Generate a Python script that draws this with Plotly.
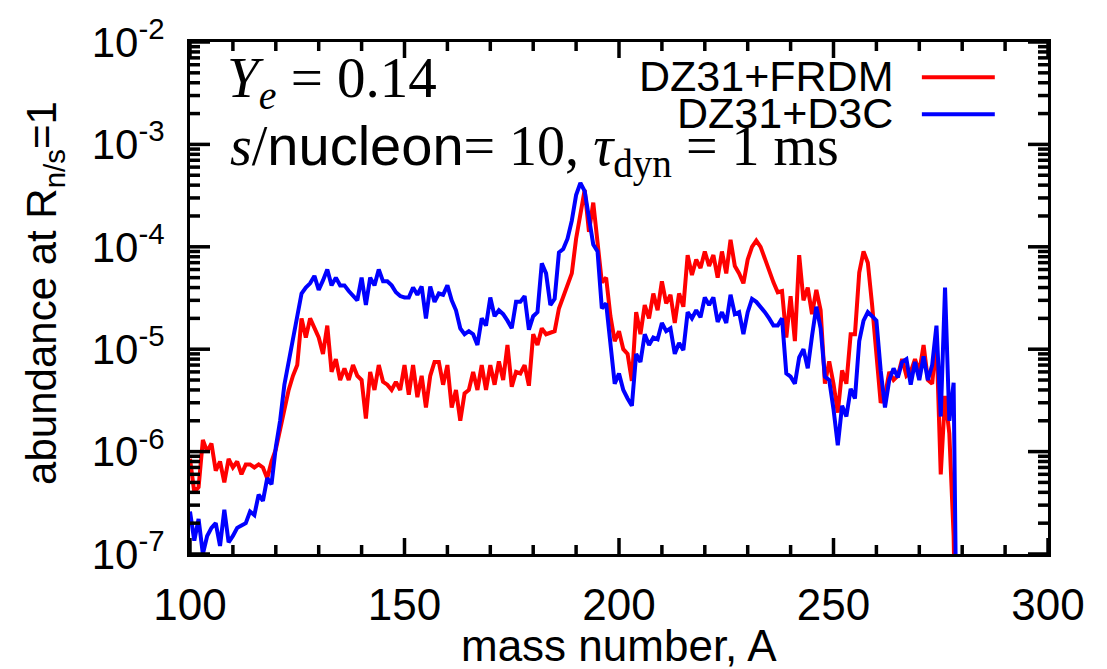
import plotly.graph_objects as go

mass_number = list(range(100, 280))

abund_frdm = [
    8.5e-7, 4e-7, 4.5e-7, 1.3e-6, 1.0e-6, 1.2e-6, 6.5e-7, 8e-7, 5e-7, 8.5e-7,   # 100-109
    7e-7, 8e-7, 6e-7, 7.5e-7, 7.5e-7, 7e-7, 7.5e-7, 7e-7, 5.5e-7, 8e-7,         # 110-119
    1.05e-6, 1.6e-6, 2.5e-6, 4e-6, 5.5e-6, 7e-6, 2e-5, 1.3e-5, 2e-5, 1.6e-5,    # 120-129
    1.3e-5, 9e-6, 1.7e-5, 6e-6, 8e-6, 5e-6, 6.5e-6, 5e-6, 7e-6, 5.5e-6,         # 130-139
    5e-6, 2.1e-6, 6e-6, 4e-6, 7e-6, 4.8e-6, 4.5e-6, 4e-6, 4.8e-6, 4e-6,        # 140-149
    7e-6, 3.6e-6, 7e-6, 3.4e-6, 5.5e-6, 2.7e-6, 5.5e-6, 7.5e-6, 7.5e-6, 4.5e-6, # 150-159
    7e-6, 2.7e-6, 4e-6, 2e-6, 3.7e-6, 4e-6, 6e-6, 4e-6, 7e-6, 4e-6,            # 160-169
    7e-6, 4.5e-6, 7.6e-6, 5e-6, 1.1e-5, 4.3e-6, 6e-6, 5.8e-6, 7e-6, 4.4e-6,    # 170-179
    1.4e-5, 1.1e-5, 1.6e-5, 1.4e-5, 1.45e-5, 1.5e-5, 2.5e-5, 3.3e-5, 4.2e-5, 5.5e-5,  # 180-189
    1.2e-4, 2.2e-4, 3.6e-4, 1.4e-4, 2.7e-4, 1.1e-4, 4.5e-5, 5e-5, 2.1e-5, 1.2e-5,     # 190-199
    1.5e-5, 1e-5, 9e-6, 4.9e-6, 2.3e-5, 1.4e-5, 2.7e-5, 2e-5, 3.5e-5, 2.4e-5,  # 200-209
    4.6e-5, 2.8e-5, 3.4e-5, 1.8e-5, 3.5e-5, 2.6e-5, 8.3e-5, 5.3e-5, 7.5e-5, 6.2e-5,  # 210-219
    9e-5, 6.5e-5, 8.3e-5, 5e-5, 9e-5, 5.5e-5, 1.17e-4, 6.5e-5, 5.5e-5, 4.4e-5, # 220-229
    7.5e-5, 1.0e-4, 1.15e-4, 1.0e-4, 7.5e-5, 6e-5, 4.5e-5, 3.6e-5, 3.7e-5, 1.3e-5,  # 230-239
    3.3e-5, 1.2e-5, 8.3e-5, 3e-5, 4e-5, 2.2e-5, 3.8e-5, 2.4e-5, 4.6e-6, 7.6e-6,  # 240-249
    4.6e-6, 2.4e-6, 6.2e-6, 4.6e-6, 1.4e-5, 1.4e-5, 5.6e-5, 9e-5, 7e-5, 2.7e-5, # 250-259
    1e-5, 3e-6, 3.5e-6, 6e-6, 5e-6, 5.5e-6, 8e-6, 5.5e-6, 6e-6, 8e-6,          # 260-269
    6e-6, 1.1e-5, 5e-6, 4.6e-6, 1.3e-5, 6e-7, 3.5e-6, 1.5e-6, 1.5e-7, 1e-9,    # 270-279
]

abund_d3c = [
    2.6e-7, 1.35e-7, 2.2e-7, 1e-7, 1.5e-7, 1.8e-7, 2e-7, 1.2e-7, 2.7e-7, 1.3e-7,  # 100-109
    1.5e-7, 1.8e-7, 1.9e-7, 2e-7, 2.6e-7, 2.4e-7, 3.8e-7, 3.3e-7, 5.5e-7, 4.8e-7,  # 110-119
    1.1e-6, 2e-6, 4.5e-6, 7.6e-6, 1.3e-5, 2.2e-5, 3.5e-5, 4e-5, 4.4e-5, 5.2e-5,   # 120-129
    3.8e-5, 4.7e-5, 6e-5, 4.2e-5, 5e-5, 4.2e-5, 4.2e-5, 3.7e-5, 3.3e-5, 3e-5,     # 130-139
    5e-5, 2.7e-5, 5e-5, 4.2e-5, 6e-5, 4.6e-5, 4.6e-5, 4.2e-5, 3.6e-5, 3.3e-5,     # 140-149
    3.2e-5, 3.2e-5, 4e-5, 3.4e-5, 4.1e-5, 2e-5, 4.1e-5, 2.9e-5, 3.5e-5, 3.4e-5,   # 150-159
    4.2e-5, 3e-5, 2.4e-5, 1.6e-5, 1.4e-5, 1.5e-5, 1.4e-5, 1.1e-5, 2e-5, 1.7e-5,   # 160-169
    3.2e-5, 2.1e-5, 2.4e-5, 2.2e-5, 1.9e-5, 1.6e-5, 2.9e-5, 2.9e-5, 3.3e-5, 1.55e-5,  # 170-179
    2.1e-5, 2.3e-5, 6.9e-5, 5.5e-5, 2.7e-5, 3.1e-5, 8.8e-5, 9.5e-5, 1.2e-4, 1.8e-4,  # 180-189
    3.2e-4, 4.2e-4, 3.5e-4, 1.8e-4, 1.05e-4, 9e-5, 2.5e-5, 2.8e-5, 1.1e-5, 4.6e-6,   # 190-199
    5.8e-6, 4e-6, 3.3e-6, 2.8e-6, 9e-6, 7.5e-6, 1.4e-5, 1.1e-5, 1.3e-5, 1.25e-5,  # 200-209
    1.8e-5, 1.5e-5, 1.6e-5, 9e-6, 1.15e-5, 9.8e-6, 2.3e-5, 2e-5, 2.4e-5, 2.05e-5, # 210-219
    3.2e-5, 2.7e-5, 3.2e-5, 1.85e-5, 2.3e-5, 1.8e-5, 3.4e-5, 2.2e-5, 2.3e-5, 1.4e-5,  # 220-229
    2.3e-5, 3.1e-5, 2.9e-5, 2.6e-5, 2.3e-5, 2e-5, 1.7e-5, 1.7e-5, 2e-5, 5.8e-6,   # 230-239
    5.4e-6, 4.6e-6, 8.3e-6, 1e-5, 6.5e-6, 1.35e-5, 2.6e-5, 1.6e-5, 5.4e-6, 5e-6,  # 240-249
    2.6e-6, 1.15e-6, 2.8e-6, 2.2e-6, 4.1e-6, 3.3e-6, 1.2e-5, 1.9e-5, 2.3e-5, 2.1e-5,  # 250-259
    1.9e-5, 6.2e-6, 2.7e-6, 5e-6, 6.5e-6, 5.3e-6, 7.5e-6, 8e-6, 4.5e-6, 7.5e-6,   # 260-269
    5e-6, 8.5e-6, 5e-6, 7e-6, 1.7e-5, 2.2e-6, 4e-5, 2e-6, 4.7e-6, 1e-9,          # 270-279
]

series_names = ["DZ31+FRDM", "DZ31+D3C"]
series_colors = ["#ff0000", "#0000ff"]
x_tick_vals = [100, 150, 200, 250, 300]
x_minor_vals = [v for v in range(110, 300, 10) if v % 50 != 0]
y_tick_vals = [1e-7, 1e-6, 1e-5, 1e-4, 1e-3, 1e-2]
y_tick_text = ["10<sup>-7</sup>", "10<sup>-6</sup>", "10<sup>-5</sup>",
               "10<sup>-4</sup>", "10<sup>-3</sup>", "10<sup>-2</sup>"]
y_minor_vals = [k * 10.0 ** e for e in range(-7, -2) for k in range(2, 10)]

SANS = "Liberation Sans, Arial, sans-serif"
SERIF = "Liberation Serif, DejaVu Serif, serif"

fig = go.Figure()
for name, ys, col in zip(series_names, [abund_frdm, abund_d3c], series_colors):
    fig.add_trace(go.Scatter(x=mass_number, y=ys, mode="lines", name=name,
                             line=dict(color=col, width=4), showlegend=False))

fig.update_xaxes(range=[100, 300], tickmode="array", tickvals=x_tick_vals,
                 ticks="", showline=True, linecolor="black", linewidth=3, mirror=True,
                 showgrid=False, zeroline=False,
                 tickfont=dict(family=SANS, size=44, color="black"), ticklabelstandoff=10)
fig.update_yaxes(type="log", range=[-7, -2], tickmode="array",
                 tickvals=y_tick_vals, ticktext=y_tick_text,
                 ticks="", showline=True, linecolor="black", linewidth=3, mirror=True,
                 showgrid=False, zeroline=False,
                 tickfont=dict(family=SANS, size=42, color="black"), ticklabelstandoff=14)

# tick marks drawn inward on all four sides, positioned through the axes
TICK = dict(color="black", width=3.5)
shapes = []
for v, ln in [(t, 16) for t in x_tick_vals] + [(t, 9) for t in x_minor_vals]:
    shapes.append(dict(type="line", xref="x", x0=v, x1=v, yref="paper", ysizemode="pixel",
                       yanchor=0, y0=0, y1=ln, line=TICK))
    shapes.append(dict(type="line", xref="x", x0=v, x1=v, yref="paper", ysizemode="pixel",
                       yanchor=1, y0=0, y1=-ln, line=TICK))
for v, ln in [(t, 20) for t in y_tick_vals] + [(t, 10) for t in y_minor_vals]:
    shapes.append(dict(type="line", yref="y", y0=v, y1=v, xref="paper", xsizemode="pixel",
                       xanchor=0, x0=0, x1=ln, line=TICK))
    shapes.append(dict(type="line", yref="y", y0=v, y1=v, xref="paper", xsizemode="pixel",
                       xanchor=1, x0=0, x1=-ln, line=TICK))

# legend keys (text on the left, line sample on the right, as in the original)
shapes += [
    dict(type="line", xref="paper", yref="paper", x0=0.853, x1=0.938, y0=0.931, y1=0.931,
         line=dict(color=series_colors[0], width=4)),
    dict(type="line", xref="paper", yref="paper", x0=0.853, x1=0.938, y0=0.859, y1=0.859,
         line=dict(color=series_colors[1], width=4)),
]

annotations = [
    dict(text="<i>Y</i><sub><i>e</i></sub> = 0.14", x=0.041, y=0.921,
         xanchor="left", yanchor="middle", font=dict(family=SERIF, size=57, color="black")),
    dict(text="<i>s</i>/<span style='font-family:Liberation Sans'>nucleon</span>= 10, "
              "<i>τ</i><sub>dyn</sub> = 1 ms", x=0.044, y=0.790,
         xanchor="left", yanchor="middle", font=dict(family=SERIF, size=56, color="black")),
    dict(text=series_names[0], x=0.822, y=0.933, xanchor="right", yanchor="middle",
         font=dict(family=SANS, size=43, color="black")),
    dict(text=series_names[1], x=0.822, y=0.861, xanchor="right", yanchor="middle",
         font=dict(family=SANS, size=43, color="black")),
    dict(text="abundance at R<sub>n/s</sub>=1", x=-0.169, y=0.51, textangle=-90,
         xanchor="center", yanchor="middle", font=dict(family=SANS, size=42, color="black")),
    dict(text="mass number, A", x=0.5, y=-0.178, xanchor="center", yanchor="middle",
         font=dict(family=SANS, size=44, color="black")),
]
for a in annotations:
    a.update(xref="paper", yref="paper", showarrow=False)

fig.update_layout(width=1107, height=669, margin=dict(l=190, r=59, t=31, b=115),
                  paper_bgcolor="white", plot_bgcolor="white",
                  annotations=annotations, shapes=shapes)

fig.write_html("out.html")
